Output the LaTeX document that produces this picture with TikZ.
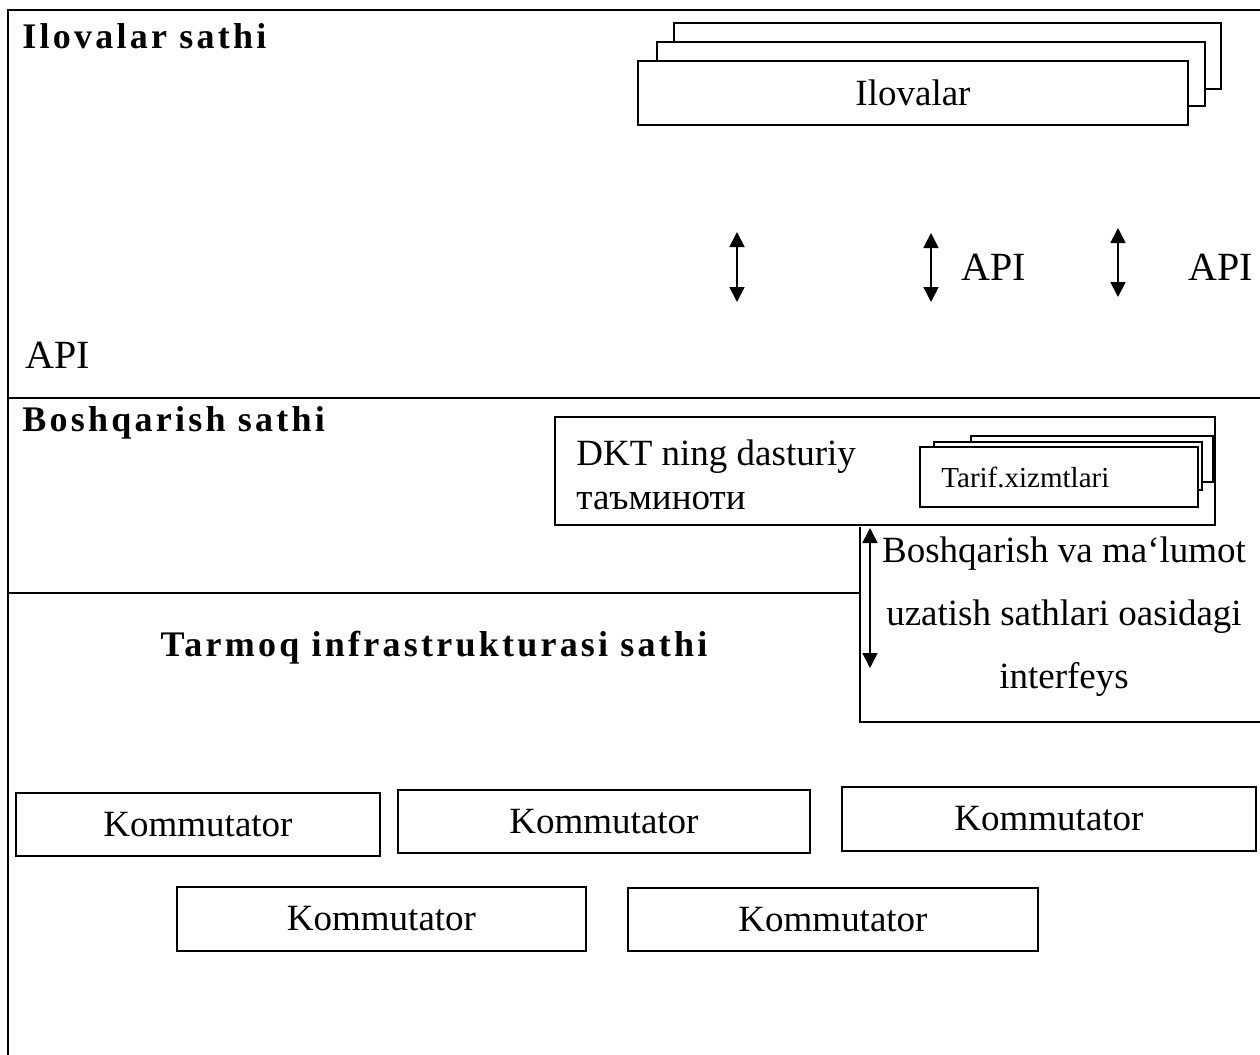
\documentclass[tikz,border=0pt]{standalone}
\usepackage{fontspec}
\setmainfont{Liberation Serif}
\usetikzlibrary{arrows.meta,positioning}
\tikzset{
  layertitle/.style={inner sep=0pt,font=\fontsize{18}{22}\selectfont\bfseries\addfontfeature{LetterSpace=9}},
  box/.style={draw,line width=0.9pt,fill=white,inner sep=0pt,font=\fontsize{18.5}{22}\selectfont},
  lbl/.style={inner sep=0pt,font=\fontsize{18.5}{22}\selectfont},
  dbl/.style={{Triangle[length=7.5pt,width=7.5pt]}-{Triangle[length=7.5pt,width=7.5pt]},line width=0.9pt},
  frame/.style={line width=1pt}
}
\begin{document}
\begin{tikzpicture}[x=0.5pt,y=-0.5pt]
  \useasboundingbox (0,0) rectangle (1260,1055);
  % frame and layer borders
  \draw[frame] (1260,10) -- (8,10) -- (8,1055);
  \draw[frame] (8,398) -- (1260,398);
  \draw[frame] (8,593) -- (860,593);
  % application layer
  \node[layertitle,anchor=west] (ilsath) at (22,36) {Ilovalar sathi};
  \node[box,minimum width=273.5pt,minimum height=33pt] (app3) at (947.5,56) {};
  \node[box,minimum width=274pt,minimum height=32pt] (app2) at (931,74) {};
  \node[box,minimum width=275pt,minimum height=32pt] (app1) at (913,93) {Ilovalar};
  \coordinate (a1t) at (737,232); \coordinate (a1b) at (737,302);
  \coordinate (a2t) at (931,233); \coordinate (a2b) at (931,302);
  \coordinate (a3t) at (1118,228); \coordinate (a3b) at (1118,297);
  \draw[dbl] (a1t) -- (a1b);
  \draw[dbl] (a2t) -- (a2b);
  \draw[dbl] (a3t) -- (a3b);
  \node[lbl,anchor=west,font=\fontsize{20}{24}\selectfont] (api1) at (961,267) {API};
  \node[lbl,anchor=west,font=\fontsize{20}{24}\selectfont] (api2) at (1188,267) {API};
  \node[lbl,anchor=west,font=\fontsize{20}{24}\selectfont] (api3) at (25,355) {API};
  % control layer
  \node[layertitle,anchor=west] (bosath) at (22,423) {Boshqarish sathi};
  \node[box,minimum width=330pt,minimum height=54pt] (dkt) at (885,471) {};
  \node[lbl,anchor=west,align=left] (dktT) at (576,475) {DKT ning dasturiy\\таъминоти};
  \node[box,minimum width=121pt,minimum height=23pt] (tar3) at (1092,459) {};
  \node[box,minimum width=134pt,minimum height=24pt] (tar2) at (1068,466) {};
  \node[box,minimum width=139pt,minimum height=30pt] (tar1) at (1059,477) {};
  \node[lbl,anchor=west,font=\fontsize{14.5}{17}\selectfont] (tarT) at (941,477) {Tarif.xizmtlari};
  % interface
  \coordinate (ifT) at (860,527);
  \coordinate (ifC) at (860,722);
  \coordinate (ifR) at (1260,722);
  \draw[frame] (ifT) -- (ifC) -- (ifR);
  \coordinate (i1t) at (870,528); \coordinate (i1b) at (870,668);
  \draw[dbl] (i1t) -- (i1b);
  \node[lbl,align=center,font=\fontsize{18.5}{31.5}\selectfont] (ifText) at (1064,617)
    {Boshqarish va ma‘lumot\\uzatish sathlari oasidagi\\interfeys};
  % infrastructure layer
  \node[layertitle] (tasath) at (434,648) {Tarmoq infrastrukturasi sathi};
  \node[box,minimum width=182pt,minimum height=31.5pt] (k1) at (198,824.5) {Kommutator};
  \node[box,minimum width=206pt,minimum height=31.5pt] (k2) at (604,821.5) {Kommutator};
  \node[box,minimum width=207pt,minimum height=32pt] (k3) at (1049,819) {Kommutator};
  \node[box,minimum width=204.5pt,minimum height=32pt] (k4) at (381.5,919) {Kommutator};
  \node[box,minimum width=205pt,minimum height=31.5pt] (k5) at (833,919.5) {Kommutator};
\end{tikzpicture}
\end{document}
